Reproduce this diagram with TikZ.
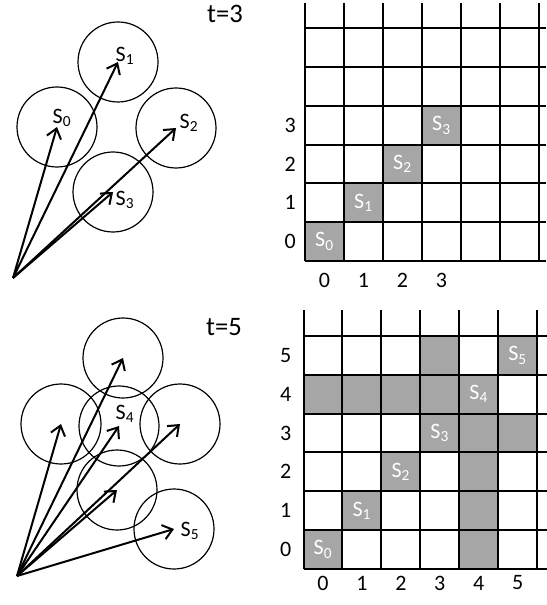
\documentclass[tikz,border=0pt]{standalone}
\usepackage{fontspec}
\setmainfont{Carlito}
\usetikzlibrary{arrows.meta}

\tikzset{
  ball/.style={circle,draw,line width=.9pt,minimum size=60pt,inner sep=0pt},
  ray/.style={-{Straight Barb[length=7pt,width=11pt]},line width=1.5pt},
  lbl/.style={font=\fontsize{16.5}{19}\selectfont,inner sep=0pt},
  cell/.style={lbl,text=white},
  hit/.style={fill=black!35},
  tlbl/.style={font=\fontsize{20}{24}\selectfont,inner sep=0pt},
}

\begin{document}
\begin{tikzpicture}[x=.75pt,y=-.75pt]
\useasboundingbox (0,0) rectangle (546,605);
% upper panel, t=3
\node[tlbl] (t3) at (225,14) {t=3};
\node[ball] (a0) at (57,127) {};
\node[ball] (a1) at (118,62) {};
\node[ball] (a2) at (176,128) {};
\node[ball] (a3) at (113,192) {};
\coordinate (o3) at (13,278);
\draw[ray] (o3) -- (a0.center);
\draw[ray] (o3) -- (a1.center);
\draw[ray] (o3) -- (a2.center);
\draw[ray] (o3) -- (a3.center);
\node[lbl] (la0) at (62,118) {S\textsubscript{0}};
\node[lbl] (la1) at (125,56) {S\textsubscript{1}};
\node[lbl] (la2) at (189,123) {S\textsubscript{2}};
\node[lbl] (la3) at (125,200) {S\textsubscript{3}};

\begin{scope}[shift={(305,261)},x=29.25pt,y=29.1pt]
\fill[hit] (0,0) rectangle (1,1) (1,1) rectangle (2,2) (2,2) rectangle (3,3) (3,3) rectangle (4,4);
\draw[line width=1.5pt,step=1] (0,0) grid (6.18,6.65);
\node[cell] (ga0) at (.5,.5) {S\textsubscript{0}};
\node[cell] (ga1) at (1.5,1.5) {S\textsubscript{1}};
\node[cell] (ga2) at (2.5,2.5) {S\textsubscript{2}};
\node[cell] (ga3) at (3.5,3.5) {S\textsubscript{3}};
\foreach \k in {0,...,3} {
  \node[lbl] (ax\k) at (\k+.5,-.49) {\k};
  \node[lbl] (ay\k) at (-.38,\k+.5) {\k};
}
\end{scope}

% lower panel, t=5
\node[tlbl] (t5) at (224,327) {t=5};
\node[ball] (b1) at (123,358) {};
\node[ball] (b0) at (61,424) {};
\node[ball] (b4) at (119,426) {};
\node[ball] (b2) at (180,424) {};
\node[ball] (b3) at (117,490) {};
\node[ball] (b5) at (174,529) {};
\coordinate (o5) at (17,576);
\draw[ray] (o5) -- (b0.center);
\draw[ray] (o5) -- (b1.center);
\draw[ray] (o5) -- (b2.center);
\draw[ray] (o5) -- (b3.center);
\draw[ray] (o5) -- (b4.center);
\draw[ray] (o5) -- (b5.center);
\node[lbl] (lb4) at (125,414) {S\textsubscript{4}};
\node[lbl] (lb5) at (190,531) {S\textsubscript{5}};

\begin{scope}[shift={(303.5,569)},x=29.2pt,y=29.15pt]
\fill[hit] (0,0) rectangle (1,1) (1,1) rectangle (2,2) (2,2) rectangle (3,3) (3,3) rectangle (4,4)
  (0,4) rectangle (5,5) (4,0) rectangle (5,4) (3,5) rectangle (4,6) (5,5) rectangle (6,6) (5,3) rectangle (6,4);
\draw[line width=1.5pt,step=1] (0,0) grid (6.25,6.66);
\node[cell] (gb0) at (.5,.5) {S\textsubscript{0}};
\node[cell] (gb1) at (1.5,1.5) {S\textsubscript{1}};
\node[cell] (gb2) at (2.5,2.5) {S\textsubscript{2}};
\node[cell] (gb3) at (3.5,3.5) {S\textsubscript{3}};
\node[cell] (gb4) at (4.5,4.5) {S\textsubscript{4}};
\node[cell] (gb5) at (5.5,5.5) {S\textsubscript{5}};
\foreach \k in {0,...,5} {
  \node[lbl] (bx\k) at (\k+.5,-.36) {\k};
  \node[lbl] (by\k) at (-.46,\k+.5) {\k};
}
\end{scope}
\end{tikzpicture}
\end{document}
